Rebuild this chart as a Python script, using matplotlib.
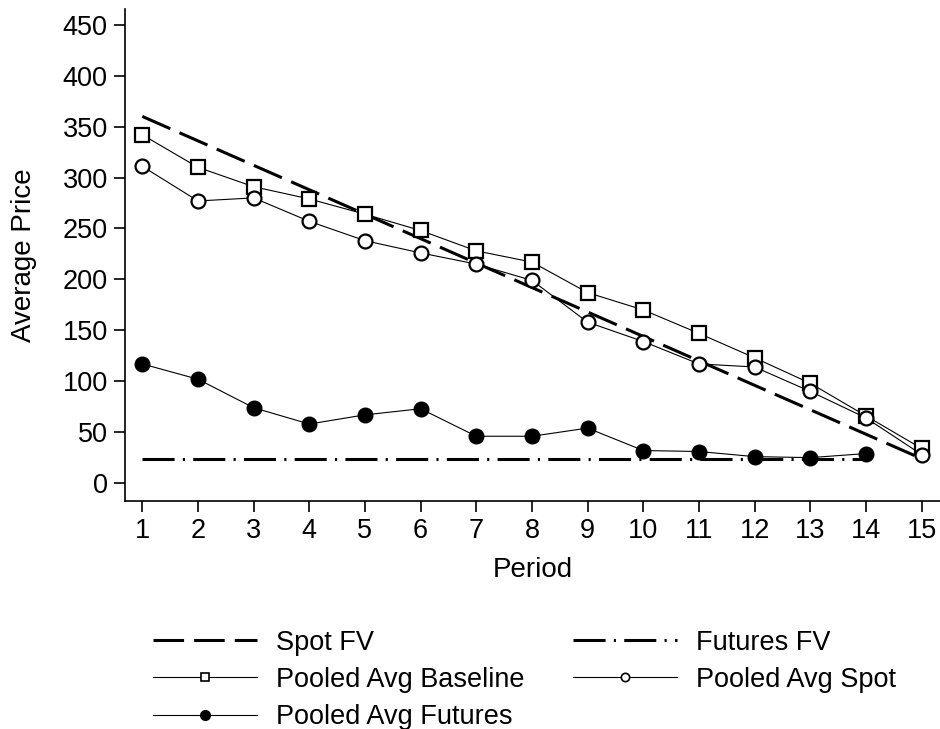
import numpy as np
import matplotlib
matplotlib.use("Agg")
import matplotlib.pyplot as plt
from matplotlib.lines import Line2D

plt.rcParams["font.family"] = ["Liberation Sans", "DejaVu Sans"]

periods = list(range(1, 16))
spot_fv = [360, 336, 312, 288, 264, 240, 216, 192, 168, 144, 120, 96, 72, 48, 24]
futures_fv = [24] * 14
baseline = [342, 310, 291, 279, 264, 248, 228, 217, 187, 170, 147, 123, 98, 66, 34]
spot = [311, 277, 280, 257, 238, 226, 215, 199, 158, 139, 117, 114, 90, 64, 28]
futures = [117, 102, 74, 58, 67, 73, 46, 46, 54, 32, 31, 26, 25, 29]

fig = plt.figure(figsize=(9.4, 7.29), dpi=100)
ax = fig.add_axes([0.133, 0.313, 0.867, 0.675])

fv_dash = (0, (10, 3.3))
fut_dash = (0, (10.5, 2.7, 0.7, 2.7))

ax.plot(periods, spot_fv, color="black", lw=2.2, linestyle=fv_dash)
ax.plot(periods[:14], futures_fv, color="black", lw=2.2, linestyle=fut_dash)
ax.plot(periods, baseline, color="black", lw=0.8, marker="s", ms=9.5,
        mfc="white", mec="black", mew=1.6)
ax.plot(periods, spot, color="black", lw=0.8, marker="o", ms=10,
        mfc="white", mec="black", mew=1.6)
ax.plot(periods[:14], futures, color="black", lw=0.8, marker="o", ms=10.5,
        mfc="black", mec="black")

ax.set_xlim(0.69, 15.33)
ax.set_ylim(-17.4, 465.7)
ax.set_xticks(periods)
ax.set_yticks(range(0, 451, 50))
for s in ["top", "right"]:
    ax.spines[s].set_visible(False)
for s in ["left", "bottom"]:
    ax.spines[s].set_linewidth(1.2)
ax.tick_params(direction="out", length=8, width=1.2, labelsize=19.5, pad=4.5)
ax.set_xlabel("Period", fontsize=20, labelpad=9)
ax.set_ylabel("Average Price", fontsize=20, labelpad=18)

handles = [
    Line2D([], [], color="black", lw=2.2, linestyle=fv_dash),
    Line2D([], [], color="black", lw=0.8, marker="s", ms=6, mfc="white", mec="black", mew=1.2),
    Line2D([], [], color="black", lw=0.8, marker="o", ms=7, mfc="black", mec="black"),
    Line2D([], [], color="black", lw=2.2, linestyle=fut_dash),
    Line2D([], [], color="black", lw=0.8, marker="o", ms=6, mfc="white", mec="black", mew=1.2),
]
labels = ["Spot FV", "Pooled Avg Baseline", "Pooled Avg Futures",
          "Futures FV", "Pooled Avg Spot"]
fig.legend(handles, labels, ncol=2, loc="upper left", bbox_to_anchor=(0.163, 0.136),
           frameon=False, fontsize=19.5, handlelength=3.85, handletextpad=0.68,
           columnspacing=1.8, labelspacing=0.41, borderpad=0, borderaxespad=0)

fig.savefig("out.png", dpi=100)
